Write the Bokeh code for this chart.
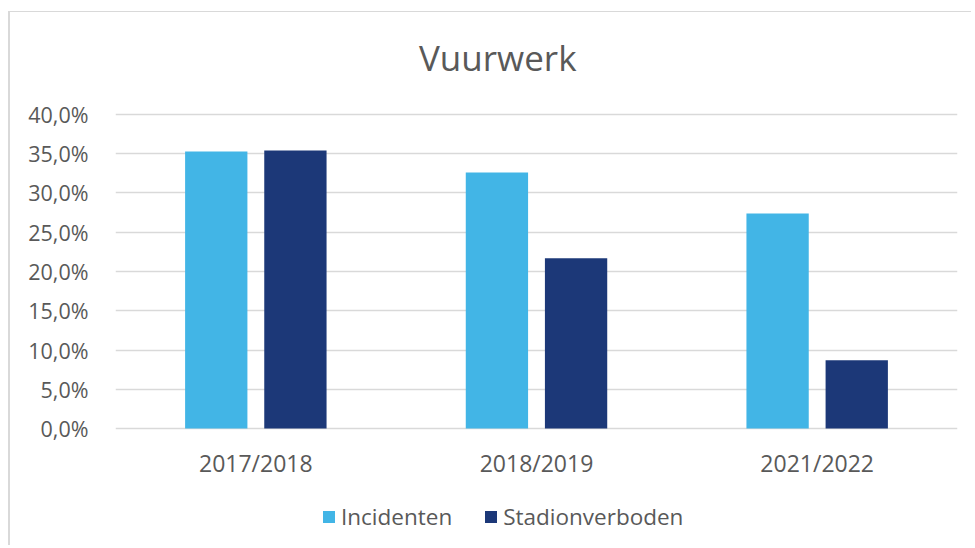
from bokeh.plotting import figure
from bokeh.models import (ColumnDataSource, FactorRange, Range1d, FixedTicker,
                          CustomJSTickFormatter, Legend, LegendItem)
from bokeh.core.properties import value
from bokeh.transform import dodge
from bokeh.embed import file_html
from bokeh.resources import INLINE

# ---- data ----
seasons = ["2017/2018", "2018/2019", "2021/2022"]
incidenten = [35.3, 32.6, 27.4]
stadionverboden = [35.4, 21.7, 8.7]
y_ticks = [0, 5, 10, 15, 20, 25, 30, 35, 40]
series_names = ["Incidenten", "Stadionverboden"]
title_text = "Vuurwerk"

FONT = "Open Sans"
TXT = "#595959"
GRID = "#D9D9D9"
C_LIGHT = "#42B5E6"
C_DARK = "#1C3878"

src = ColumnDataSource(dict(season=seasons, inc=incidenten, sv=stadionverboden))

# layout: frame spans the whole chart area; title, labels, legend live inside it
W, H = 963, 534
Y_MIN = -14.52          # room below 0 for labels/legend (layout only)
Y_MAX = 52.99           # room above 40 for the title (layout only)
LABEL_Y = -4.45         # category label position (layout only)
TITLE_Y = 47.2          # title baseline (layout only)

p = figure(width=W, height=H, output_backend="svg", toolbar_location=None,
           x_range=FactorRange(*seasons, range_padding=0),
           y_range=Range1d(Y_MIN, Y_MAX),
           min_border_left=105, min_border_right=16, min_border_top=0,
           min_border_bottom=4)
p.styles = {"margin-left": "8px", "margin-top": "11px",
            "border-left": "2px solid #D9D9D9", "border-top": "1px solid #D9D9D9"}

r1 = p.vbar(x=dodge("season", -0.141, range=p.x_range), top="inc", width=0.222,
            source=src, color=C_LIGHT, line_color=None)
r2 = p.vbar(x=dodge("season", 0.141, range=p.x_range), top="sv", width=0.222,
            source=src, color=C_DARK, line_color=None)

# category labels
lab_src = ColumnDataSource(dict(season=seasons, y=[LABEL_Y] * len(seasons)))
p.text(x="season", y="y", text="season", source=lab_src,
       text_font=value(FONT), text_font_size="23px", text_color=TXT,
       text_align="center", text_baseline="middle")

# title (centred over the whole chart box, i.e. slightly left of middle category)
title_src = ColumnDataSource(dict(x=[seasons[1]], y=[TITLE_Y], t=[title_text]))
p.text(x=dodge("x", -0.138, range=p.x_range), y="y", text="t", source=title_src,
       text_font=value(FONT), text_font_size="35px", text_color=TXT,
       text_align="center", text_baseline="alphabetic")

p.outline_line_color = None
p.background_fill_color = "white"
p.border_fill_color = "white"

p.xaxis.visible = False
p.xgrid.grid_line_color = None
p.ygrid.grid_line_color = GRID
p.ygrid.grid_line_width = 1.5
p.yaxis.ticker = FixedTicker(ticks=y_ticks)
p.ygrid.ticker = FixedTicker(ticks=y_ticks)
p.yaxis.formatter = CustomJSTickFormatter(code="return tick.toFixed(1).replace('.', ',') + '%';")

ax = p.yaxis[0]
ax.axis_line_color = None
ax.major_tick_line_color = None
ax.minor_tick_line_color = None
ax.major_tick_out = 0
ax.major_tick_in = 0
ax.minor_tick_out = 0
ax.major_label_text_font = FONT
ax.major_label_text_color = TXT
ax.major_label_text_font_size = "21.5px"
ax.major_label_standoff = 27

legend = Legend(items=[LegendItem(label=series_names[0], renderers=[r1]),
                       LegendItem(label=series_names[1], renderers=[r2])],
                orientation="horizontal", location=(206, 10),
                glyph_width=15, glyph_height=15, label_standoff=5, spacing=31,
                padding=0, margin=0, border_line_color=None,
                background_fill_alpha=0,
                label_text_font=FONT, label_text_font_size="22.5px",
                label_text_color=TXT, label_height=15)
p.add_layout(legend, "center")

open("out.html", "w").write(file_html(p, INLINE))
